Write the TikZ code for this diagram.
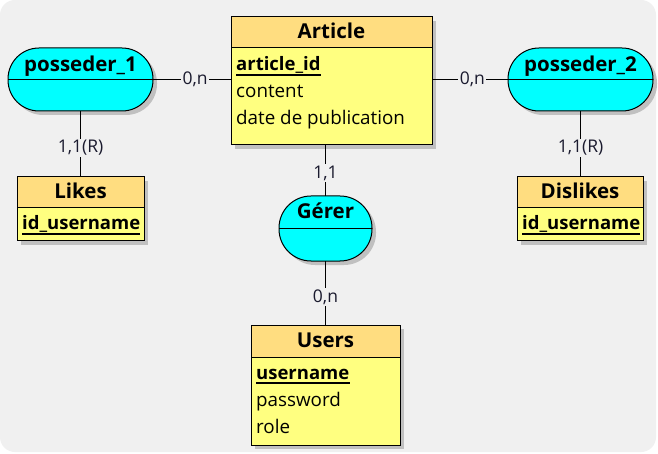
\documentclass[tikz,border=0pt]{standalone}
\usepackage{fontspec}
\setmainfont{Open Sans}
\usetikzlibrary{shadows,calc}
\definecolor{bgc}{HTML}{F0F0F0}
\definecolor{hdrc}{HTML}{FFDD80}
\definecolor{bodyc}{HTML}{FFFF80}
\definecolor{assocc}{HTML}{00FFFF}
\definecolor{shadc}{HTML}{C0C0C0}
\definecolor{cardc}{HTML}{1A1A2E}
\newcommand\keyline[1]{\draw[line width=1.3pt] ([yshift=-4pt]#1.base west) -- ([yshift=-4pt]#1.base east);}
\begin{document}
\begin{tikzpicture}[x=1pt,y=-1pt,
 shad/.style={drop shadow={shadow xshift=4pt, shadow yshift=-4pt, fill=shadc, opacity=1}},
 ent/.style={draw, line width=1pt, fill=bodyc, inner sep=0, outer sep=0, shad},
 assoc/.style={draw, line width=1pt, fill=assocc, inner sep=0, outer sep=0, shad},
 hdr/.style={draw, line width=1pt, fill=hdrc},
 ttl/.style={font=\fontsize{20.5}{24}\selectfont\bfseries, inner sep=0, anchor=base},
 attr/.style={font=\fontsize{18.8}{22}\selectfont, inner sep=0, anchor=base west},
 keyattr/.style={font=\fontsize{18.5}{22}\selectfont\bfseries, inner sep=0, anchor=base west},
 card/.style={font=\fontsize{17.5}{20}\selectfont, fill=bgc, inner sep=1.5pt, text=cardc},
 link/.style={line width=1pt}
]
\fill[white] (0,0) rectangle (658,454);
\fill[bgc, rounded corners=15pt] (0,0) rectangle (656,452);
\useasboundingbox (0,0) rectangle (658,454);

% Entities
\node[ent, minimum width=201pt, minimum height=128pt] (article) at (331.5,81) {};
\filldraw[hdr] (article.north west) rectangle ([yshift=-31pt]article.north east);
\node[ttl] (articleT) at ([yshift=-22pt]article.north) {Article};
\node[keyattr] (articleK) at ([xshift=5pt,yshift=-54pt]article.north west) {article\_id};
\keyline{articleK}
\node[attr] (articleA1) at ([xshift=5pt,yshift=-81pt]article.north west) {content};
\node[attr] (articleA2) at ([xshift=5pt,yshift=-108pt]article.north west) {date de publication};

\node[ent, minimum width=127pt, minimum height=64pt] (likes) at (80.5,209) {};
\filldraw[hdr] (likes.north west) rectangle ([yshift=-31pt]likes.north east);
\node[ttl] (likesT) at ([yshift=-22pt]likes.north) {Likes};
\node[keyattr] (likesK) at ([xshift=5pt,yshift=-53pt]likes.north west) {id\_username};
\keyline{likesK}

\node[ent, minimum width=126pt, minimum height=64pt] (dislikes) at (580,209) {};
\filldraw[hdr] (dislikes.north west) rectangle ([yshift=-31pt]dislikes.north east);
\node[ttl] (dislikesT) at ([yshift=-22pt]dislikes.north) {Dislikes};
\node[keyattr] (dislikesK) at ([xshift=5pt,yshift=-53pt]dislikes.north west) {id\_username};
\keyline{dislikesK}

\node[ent, minimum width=149pt, minimum height=120pt] (users) at (325.5,385) {};
\filldraw[hdr] (users.north west) rectangle ([yshift=-32pt]users.north east);
\node[ttl] (usersT) at ([yshift=-22pt]users.north) {Users};
\node[keyattr] (usersK) at ([xshift=5pt,yshift=-54pt]users.north west) {username};
\keyline{usersK}
\node[attr] (usersA1) at ([xshift=5pt,yshift=-81pt]users.north west) {password};
\node[attr] (usersA2) at ([xshift=5pt,yshift=-108pt]users.north west) {role};

% Associations
\node[assoc, rounded corners=31pt, minimum width=145pt, minimum height=63pt] (p1) at (80.5,79.5) {};
\draw[line width=1pt] (p1.west) -- (p1.east);
\node[ttl] (p1T) at ([yshift=-24pt]p1.north) {posseder\_1};

\node[assoc, rounded corners=31pt, minimum width=145pt, minimum height=63pt] (p2) at (580.5,79.5) {};
\draw[line width=1pt] (p2.west) -- (p2.east);
\node[ttl] (p2T) at ([yshift=-24pt]p2.north) {posseder\_2};

\node[assoc, rounded corners=32pt, minimum width=93pt, minimum height=65pt] (gerer) at (325.5,228.5) {};
\draw[line width=1pt] (gerer.west) -- (gerer.east);
\node[ttl] (gererT) at ([yshift=-23pt]gerer.north) {Gérer};

% Links
\draw[link] (p1.east) -- node[card, pos=0.54] {0,n} (p1.east -| article.west);
\draw[link] (article.east |- p2.west) -- node[card, pos=0.53] {0,n} (p2.west);
\draw[link] (p1.south) -- node[card, pos=0.56] {1,1(R)} (likes.north);
\draw[link] (p2.south) -- node[card, pos=0.56] {1,1(R)} (p2.south |- dislikes.north);
\draw[link] (gerer.north |- article.south) -- node[card, pos=0.55] {1,1} (gerer.north);
\draw[link] (gerer.south) -- node[card, pos=0.56] {0,n} (users.north);
\end{tikzpicture}
\end{document}
